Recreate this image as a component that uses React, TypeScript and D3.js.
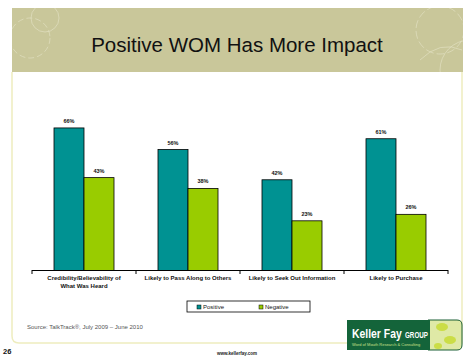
import React from 'react';
import * as d3 from 'd3';

const categories = [
  ['Credibility/Believability of', 'What Was Heard'],
  ['Likely to Pass Along to Others'],
  ['Likely to Seek Out Information'],
  ['Likely to Purchase'],
];
const series = ['Positive', 'Negative'];
const positive = [66, 56, 42, 61];
const negative = [43, 38, 23, 26];

const colors = ['#009292', '#99cc00'];

const W = 469;
const H = 361;

export default function App() {
  const keys = categories.map((c) => c.join(' '));
  const x0 = d3.scaleBand().domain(keys).range([32, 448]).paddingInner(0).paddingOuter(0);
  const x1 = d3
    .scaleBand()
    .domain(series)
    .range([0, x0.bandwidth()])
    .paddingInner(0)
    .paddingOuter(0.733);
  const y = d3.scaleLinear().domain([0, 100]).range([270.5, 54.5]);

  const vals = [positive, negative];
  const ticks = [...keys.map((k) => x0(k) as number), 448];

  return (
    <svg width={W} height={H} style={{ position: 'absolute', left: 0, top: 0 }} fontFamily="Arial, 'Liberation Sans', sans-serif">
      <rect width={W} height={H} fill="#fff" />
      {/* slide frame */}
      <path d="M12,72 L12,336 Q12,343 19,343 L462,343 L462,72" fill="none" stroke="#eeedbf" strokeWidth={1.5} />
      {/* header */}
      <rect x={12} y={8} width={451} height={64} fill="#c9c79a" />
      <clipPath id="hdr"><rect x={12} y={8} width={451} height={64} /></clipPath>
      <g fill="none" stroke="#e8e7cc" strokeWidth={0.7} opacity={0.8} clipPath="url(#hdr)">
        <circle cx={30} cy={38} r={20} strokeDasharray="6 3" />
        <circle cx={45} cy={18} r={14} />
        <circle cx={440} cy={30} r={24} strokeDasharray="8 3" />
        <circle cx={470} cy={70} r={30} />
        <path d="M420,60 Q440,40 462,50" />
      </g>
      <text x={237} y={52} textAnchor="middle" fontSize={20.5} fill="#111">Positive WOM Has More Impact</text>

      {/* bars */}
      {keys.map((k, ci) => (
        <g key={k} transform={`translate(${x0(k)},0)`}>
          {series.map((s, si) => {
            const v = vals[si][ci];
            const bx = x1(s) as number;
            return (
              <g key={s}>
                <rect x={bx} y={y(v)} width={x1.bandwidth()} height={y(0) - y(v)} fill={colors[si]} stroke="#000" strokeWidth={0.8} />
                <text x={bx + x1.bandwidth() / 2} y={y(v) - 5} textAnchor="middle" fontSize={5.5} fontWeight="bold" fill="#111">{v}%</text>
              </g>
            );
          })}
        </g>
      ))}
      {/* axis */}
      <line x1={32} x2={448} y1={270.5} y2={270.5} stroke="#000" strokeWidth={1} />
      {ticks.map((t, i) => (
        <line key={i} x1={t} x2={t} y1={270} y2={274} stroke="#000" strokeWidth={1} />
      ))}
      {categories.map((c, ci) => (
        <text key={ci} x={(x0(keys[ci]) as number) + x0.bandwidth() / 2} y={280} textAnchor="middle" fontSize={6} fontWeight="bold" fill="#111">
          {c.map((line, li) => (
            <tspan key={li} x={(x0(keys[ci]) as number) + x0.bandwidth() / 2} dy={li === 0 ? 0 : 8}>{line}</tspan>
          ))}
        </text>
      ))}

      {/* legend */}
      <rect x={187} y={301} width={123} height={11} fill="#fff" stroke="#000" strokeWidth={0.8} />
      {series.map((s, i) => (
        <g key={s} transform={`translate(${200 + i * 62},306.5)`}>
          <rect x={-3} y={-1.5} width={4} height={4} fill={colors[i]} stroke="#000" strokeWidth={0.5} />
          <text x={3} y={2.3} fontSize={6} fill="#111">{s}</text>
        </g>
      ))}

      {/* source */}
      <text x={27} y={329} fontSize={6} fill="#555">Source: TalkTrack®, July 2009 – June 2010</text>
      <text x={3} y={354} fontSize={7.5} fontWeight="bold" fill="#111">26</text>
      <text x={237} y={355} textAnchor="middle" fontSize={4.5} fontWeight="bold" fill="#222">www.kellerfay.com</text>

      {/* logo */}
      <path d="M428,320 L457,320 Q462,320 462,325 L462,345 Q462,350 457,350 L428,350 Z" fill="#dfe9a6" stroke="#1b5e34" strokeWidth={1} />
      <g fill="#c9dc3c" opacity={0.9}>
        <ellipse cx={442} cy={327} rx={6} ry={4} />
        <ellipse cx={450} cy={340} rx={6} ry={4} />
        <ellipse cx={438} cy={346} rx={4} ry={3} />
      </g>
      <rect x={347} y={320} width={83} height={30} fill="#14643a" />
      <g transform="translate(352,338) scale(0.8,1)">
        <text x={0} y={0} fontSize={13} fontWeight="bold" fill="#fff">Keller Fay</text>
      </g>
      <g transform="translate(405,338) scale(0.66,1)">
        <text x={0} y={0} fontSize={9.5} fontWeight="bold" fill="#fff">GROUP</text>
      </g>
      <text x={352} y={346} fontSize={4} fill="#c9e08a">Word of Mouth Research &amp; Consulting</text>
    </svg>
  );
}
